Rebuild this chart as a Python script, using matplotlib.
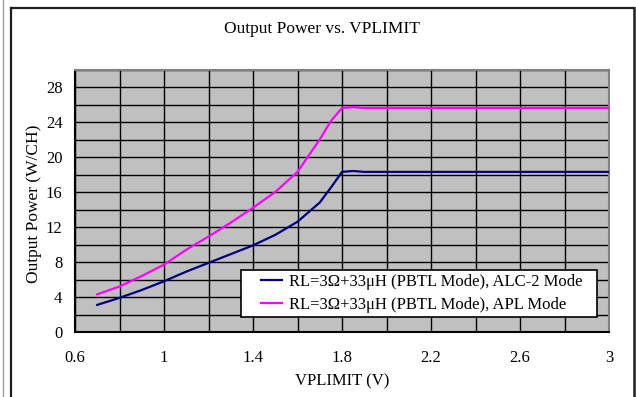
import matplotlib
matplotlib.use("Agg")
import matplotlib.pyplot as plt
from matplotlib.lines import Line2D
from matplotlib.legend_handler import HandlerLine2D
from matplotlib.ticker import MultipleLocator, FixedLocator

plt.rcParams['font.family'] = ['Liberation Serif', 'DejaVu Serif']

# Data
vplimit = [0.7, 0.8, 0.9, 1.0, 1.1, 1.2, 1.3, 1.4, 1.5, 1.6, 1.7, 1.75, 1.8, 1.85, 1.9,
           2.0, 2.2, 2.4, 2.6, 2.8, 3.0]
alc2 = [3.1, 3.9, 4.8, 5.8, 6.9, 7.9, 8.9, 9.9, 11.1, 12.6, 14.8, 16.5, 18.3, 18.4, 18.3,
        18.3, 18.3, 18.3, 18.3, 18.3, 18.3]
apl = [4.3, 5.2, 6.4, 7.7, 9.4, 10.9, 12.5, 14.2, 16.0, 18.3, 22.0, 24.1, 25.6, 25.7, 25.6,
       25.6, 25.6, 25.6, 25.6, 25.6, 25.6]
labels = ["RL=3Ω+33μH (PBTL Mode), ALC-2 Mode",
          "RL=3Ω+33μH (PBTL Mode), APL Mode"]
xticks = [0.6, 1.0, 1.4, 1.8, 2.2, 2.6, 3.0]
xticklabels = ["0.6", "1", "1.4", "1.8", "2.2", "2.6", "3"]
yticks = [0, 4, 8, 12, 16, 20, 24, 28]

W, H = 636, 397
fig = plt.figure(figsize=(W / 100, H / 100), dpi=100)

def fx(px):
    return px / W

def fy(py):
    return 1 - py / H

# outer frame
fig.add_artist(Line2D([fx(2.5), fx(2.5)], [fy(0), fy(397)], color='#a0a0a0', lw=1.0))
fig.add_artist(Line2D([fx(11), fx(11)], [fy(8), fy(397)], color='#202020', lw=1.6))
fig.add_artist(Line2D([fx(11), fx(634)], [fy(8), fy(8)], color='#202020', lw=1.6))
fig.add_artist(Line2D([fx(634), fx(634)], [fy(8), fy(397)], color='#202020', lw=1.8))

L, R, T, B = 75, 609, 69.5, 332
ax = fig.add_axes([fx(L), fy(B), fx(R - L), (B - T) / H])
ax.set_facecolor('#C0C0C0')

ax.plot(vplimit, alc2, color='#000080', lw=1.6, label=labels[0], zorder=3)
ax.plot(vplimit, apl, color='#FF00FF', lw=1.6, label=labels[1], zorder=3)

ax.set_xlim(0.6, 3.0)
ax.set_ylim(0, 30)
ax.xaxis.set_major_locator(FixedLocator(xticks))
ax.set_xticklabels(xticklabels)
ax.xaxis.set_minor_locator(MultipleLocator(0.2))
ax.yaxis.set_major_locator(FixedLocator(yticks))
ax.yaxis.set_minor_locator(MultipleLocator(2))
ax.grid(which='both', color='black', lw=1.0, zorder=1)
ax.set_axisbelow(True)
ax.tick_params(which='both', length=0)
ax.tick_params(axis='y', pad=9, labelsize=12)
ax.tick_params(axis='x', pad=13, labelsize=12)

for s in ['top', 'right']:
    ax.spines[s].set_color('#808080')
    ax.spines[s].set_linewidth(1.5)
for s in ['left', 'bottom']:
    ax.spines[s].set_color('black')
    ax.spines[s].set_linewidth(1.5)

ax.set_xlabel("VPLIMIT (V)", fontsize=12, labelpad=5)
ax.set_ylabel("Output Power (W/CH)", fontsize=12.5)
ax.yaxis.set_label_coords((42 - L) / (R - L), 0.49)
fig.text(fx(322), fy(29), "Output Power vs. VPLIMIT", fontsize=12.5, ha='center', va='center')


class OffsetLineHandler(HandlerLine2D):
    def create_artists(self, legend, orig_handle, xdescent, ydescent, width, height,
                       fontsize, trans):
        y = height / 2 - ydescent
        start = width * 0.43 - xdescent
        ln = Line2D([start, width - xdescent], [y, y], color=orig_handle.get_color(),
                    lw=orig_handle.get_linewidth())
        ln.set_transform(trans)
        return [ln]


x0 = (241 - L) / (R - L)
x1 = (597 - L) / (R - L)
y0 = (B - 317) / (B - T)
y1 = (B - 268) / (B - T)
leg = ax.legend(loc='lower left', bbox_to_anchor=(x0, y0, x1 - x0, y1 - y0), mode='expand',
                borderaxespad=0, fancybox=False, framealpha=1, edgecolor='black',
                fontsize=12, handlelength=2.2, handletextpad=0.45, labelspacing=0.4,
                borderpad=0.25, handler_map={Line2D: OffsetLineHandler()})
leg.get_frame().set_linewidth(1.2)
leg.set_zorder(5)

fig.savefig("out.png", dpi=100)
